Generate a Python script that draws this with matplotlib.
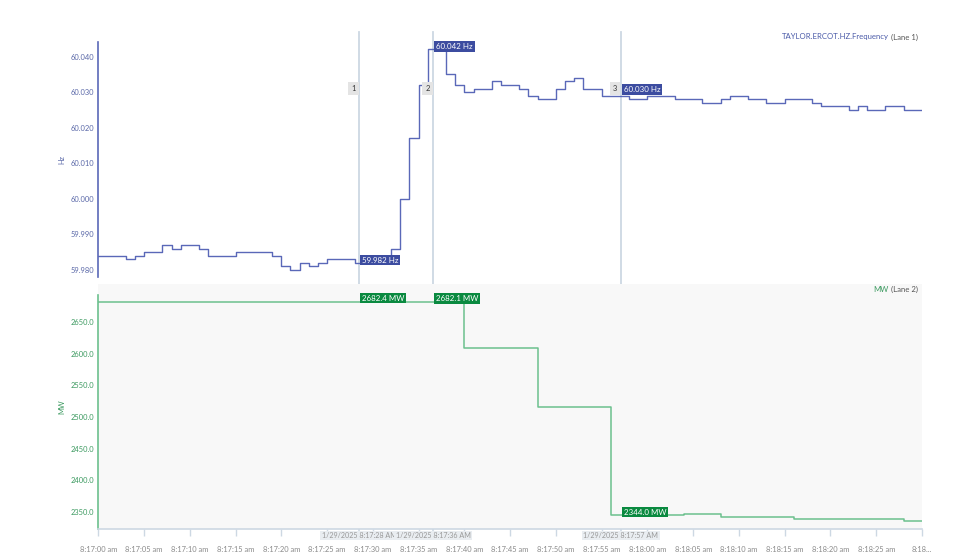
import numpy as np
import matplotlib
matplotlib.use('Agg')
import matplotlib.pyplot as plt

plt.rcParams['font.family'] = ['Lato', 'DejaVu Sans']

# seconds after 8:17:00 am, step starts
freq_t = [0, 3, 4, 5, 7, 8, 9, 11, 12, 15, 19, 20, 21, 22, 23, 24, 25, 28, 32, 33,
          34, 35, 36, 38, 39, 40, 41, 43, 44, 46, 47, 48, 50, 51, 52, 53, 55, 58, 60,
          63, 66, 68, 69, 71, 73, 75, 78, 79, 82, 83, 84, 86, 88, 90]
freq_v = [59.984, 59.983, 59.984, 59.985, 59.987, 59.986, 59.987, 59.986, 59.984, 59.985,
          59.984, 59.981, 59.980, 59.982, 59.981, 59.982, 59.983, 59.982, 59.986, 60.000,
          60.017, 60.032, 60.042, 60.035, 60.032, 60.030, 60.031, 60.033, 60.032, 60.031,
          60.029, 60.028, 60.031, 60.033, 60.034, 60.031, 60.029, 60.028, 60.029,
          60.028, 60.027, 60.028, 60.029, 60.028, 60.027, 60.028, 60.027, 60.026, 60.025,
          60.026, 60.025, 60.026, 60.025, 60.025]

mw_t = [0, 4, 8, 12, 16, 20, 24, 28, 32, 40, 44, 48, 52, 56, 64, 68, 76, 88, 90]
mw_v = [2681.6, 2681.4, 2681.8, 2681.8, 2681.7, 2681.6, 2681.9, 2682.4, 2682.1, 2608.8,
        2609.2, 2515.8, 2516.0, 2344.0, 2346.7, 2342.2, 2338.8, 2334.6, 2334.6]

cursor_t = [28.5, 36.6, 57.1]
cursor_names = ['1', '2', '3']
cursor_dates = ['1/29/2025 8:17:28 AM', '1/29/2025 8:17:36 AM', '1/29/2025 8:17:57 AM']
cursor_hz = [59.982, 60.042, 60.030]
cursor_mw = [2682.4, 2682.1, 2344.0]

tick_t = [0, 5, 10, 15, 20, 25, 30, 35, 40, 45, 50, 55, 60, 65, 70, 75, 80, 85, 90]
tick_labels = ['8:17:00 am', '8:17:05 am', '8:17:10 am', '8:17:15 am', '8:17:20 am',
               '8:17:25 am', '8:17:30 am', '8:17:35 am', '8:17:40 am', '8:17:45 am',
               '8:17:50 am', '8:17:55 am', '8:18:00 am', '8:18:05 am', '8:18:10 am',
               '8:18:15 am', '8:18:20 am', '8:18:25 am', '8:18...']

hz_ticks = [59.980, 59.990, 60.000, 60.010, 60.020, 60.030, 60.040]
mw_ticks = [2350, 2400, 2450, 2500, 2550, 2600, 2650]

W, H = 976, 560
blue = '#5a68b8'
blue_box = '#3c4ca0'
green = '#6cc08e'
green_box = '#0a8a40'
green_txt = '#3c9a60'
cur_col = '#cdd8e3'
fs = 5.4

fig = plt.figure(figsize=(W / 100, H / 100), dpi=100)

def px_box(x0, y0, x1, y1):
    return [x0 / W, 1 - y1 / H, (x1 - x0) / W, (y1 - y0) / H]

ax1 = fig.add_axes(px_box(98.3, 42, 922, 277))
ax2 = fig.add_axes(px_box(98.3, 284.3, 922, 529.3), sharex=ax1)

# lane 1 - frequency
ax1.step(freq_t, freq_v, where='post', color=blue, lw=1.0)
ax1.set_xlim(0, 90)
ax1.set_ylim(59.978, 60.0441)
ax1.set_yticks(hz_ticks)
ax1.set_yticklabels(['%.3f' % v for v in hz_ticks])
ax1.tick_params(axis='y', length=0, labelsize=fs, labelcolor='#5a68a8', pad=3)
ax1.tick_params(axis='x', bottom=False, labelbottom=False)
for s in ['top', 'right', 'bottom']:
    ax1.spines[s].set_visible(False)
ax1.spines['left'].set_color(blue)
ax1.spines['left'].set_linewidth(1.2)
ax1.set_ylabel('Hz', fontsize=fs, color='#5a68a8', labelpad=4)
ax1.patch.set_alpha(0)

# lane 2 - MW
ax2.set_facecolor('#f8f8f8')
ax2.step(mw_t, mw_v, where='post', color=green, lw=1.1)
ax2.set_ylim(2322.1, 2710.2)
ax2.set_yticks(mw_ticks)
ax2.set_yticklabels(['%.1f' % v for v in mw_ticks])
ax2.tick_params(axis='y', length=0, labelsize=fs, labelcolor=green_txt, pad=3)
ax2.set_xticks(tick_t)
ax2.set_xticklabels(tick_labels)
ax2.tick_params(axis='x', length=5, width=1, color=cur_col, labelsize=fs,
                labelcolor='#8a8a8a', pad=7)
for s in ['top', 'right']:
    ax2.spines[s].set_visible(False)
ax2.spines['left'].set_color(green)
ax2.spines['left'].set_linewidth(1.2)
ax2.spines['left'].set_bounds(2322.1, 2694)
ax2.spines['bottom'].set_color(cur_col)
ax2.spines['bottom'].set_linewidth(1.2)
ax2.set_ylabel('MW', fontsize=fs, color=green_txt, labelpad=4)

# cursors
for t, name, date, hz, mw in zip(cursor_t, cursor_names, cursor_dates, cursor_hz, cursor_mw):
    xf = ax1.transData.transform((t, 0))[0] / fig.dpi / fig.get_size_inches()[0]
    fig.add_artist(plt.Line2D([xf, xf], [1 - 529.5 / H, 1 - 32 / H], color=cur_col,
                              lw=1.3, zorder=0))
    ax1.annotate(name, xy=(t, 60.031), xytext=(-2.5, 0), textcoords='offset points',
                 ha='right', va='center', fontsize=fs, color='#333333',
                 bbox=dict(boxstyle='square,pad=0.4', fc='#e4e4e4', ec='none'))
    ax1.annotate('%.3f Hz' % hz, xy=(t, hz), xytext=(2, 2), textcoords='offset points',
                 ha='left', va='center', fontsize=fs + 0.3, color='white', zorder=5,
                 bbox=dict(boxstyle='square,pad=0.25', fc=blue_box, ec='none'))
    ax2.annotate('%.1f MW' % mw, xy=(t, mw), xytext=(2, 2.5), textcoords='offset points',
                 ha='left', va='center', fontsize=fs + 0.3, color='white', zorder=5,
                 bbox=dict(boxstyle='square,pad=0.2', fc=green_box, ec='none'))
    fig.text(xf, 1 - 535.5 / H, date, ha='center', va='center', fontsize=5.1,
             color='#999999', bbox=dict(boxstyle='square,pad=0.2', fc='#e9edf1', ec='none'))

# lane titles
renderer = fig.canvas.get_renderer()
def lane_title(y_px, name, col):
    t1 = fig.text(918 / W, 1 - y_px / H, '(Lane %s)' % name[1], ha='right', va='center',
                  fontsize=5.6, color='#555555')
    bb = t1.get_window_extent(renderer)
    fig.text((bb.x0 - 2) / W, 1 - y_px / H, name[0], ha='right', va='center',
             fontsize=5.6, color=col)

lane_title(37, ('TAYLOR.ERCOT.HZ.Frequency', '1'), '#4a5aa8')
lane_title(289, ('MW', '2'), green_txt)

fig.savefig('out.png', dpi=100)
